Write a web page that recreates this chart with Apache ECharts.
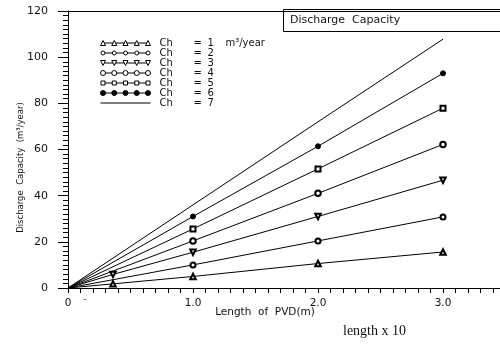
<!DOCTYPE html>
<html>
<head>
<meta charset="utf-8">
<script src="https://cdn.jsdelivr.net/npm/echarts@6/dist/echarts.min.js"></script>
<style>
  html, body { margin: 0; padding: 0; background: #fff; }
  #chart { width: 500px; height: 344px; }
</style>
</head>
<body>
<div id="chart"></div>
<script>
// PVD lengths (m) at which the discharge capacity was computed
const lengths = [0, 1.0, 2.0, 3.0];
// Discharge capacity (m3/year) for each Ch value
const ch1 = [0, 5.0, 10.6, 15.6];
const ch2 = [0, 10.0, 20.4, 30.8];
const ch3 = [0, 15.5, 31.0, 46.7];
const ch4 = [0, 20.4, 41.0, 62.2];
const ch5 = [0, 25.6, 51.6, 77.9];
const ch6 = [0, 31.0, 61.4, 93.0];
const ch7 = [0, 36.0, 72.0, 107.8];
// extra short-length readings for Ch = 1 and Ch = 3
const shortLength = 0.36;
const ch1Short = 1.8;
const ch3Short = 5.9;

const chNames = ['1', '2', '3', '4', '5', '6', '7'];
const yTicks = [0, 20, 40, 60, 80, 100, 120];
const xLabelValues = [0, 1, 2, 3];

const FONT = 'DejaVu Sans';

function buildPoints(values, extra) {
  const pts = lengths.map((x, i) => (i === 0 ? { value: [x, values[i]], symbol: 'none' } : [x, values[i]]));
  if (extra !== undefined) pts.splice(1, 0, [shortLength, extra]);
  return pts;
}

// legend swatch paths: a row of five markers joined by short line segments (50 x 5 box)
const centers = [2.5, 13.75, 25, 36.25, 47.5];
function joinSegs(halfW) {
  let s = '';
  for (let i = 0; i < centers.length - 1; i++) {
    s += 'M' + (centers[i] + halfW) + ' 2.5 L' + (centers[i + 1] - halfW) + ' 2.5 ';
  }
  return s;
}
function triPath(down) {
  let s = '';
  centers.forEach(c => {
    s += down ? ('M' + (c - 2.5) + ' 0 L' + (c + 2.5) + ' 0 L' + c + ' 5 Z ')
              : ('M' + (c - 2.5) + ' 5 L' + c + ' 0 L' + (c + 2.5) + ' 5 Z ');
  });
  return 'path://' + s + joinSegs(1.3);
}
function circlePath(r) {
  let s = '';
  centers.forEach(c => {
    s += 'M' + (c - r) + ' 2.5 A' + r + ' ' + r + ' 0 1 0 ' + (c + r) + ' 2.5 A' + r + ' ' + r + ' 0 1 0 ' + (c - r) + ' 2.5 Z ';
  });
  // keep the box 50 x 5
  return 'path://M0 0 M50 5 ' + s + joinSegs(r);
}
function rectPath() {
  let s = '';
  centers.forEach(c => {
    s += 'M' + (c - 2) + ' 0.5 L' + (c + 2) + ' 0.5 L' + (c + 2) + ' 4.5 L' + (c - 2) + ' 4.5 Z ';
  });
  return 'path://M0 0 M50 5 ' + s + joinSegs(2);
}

const hollow = { color: '#fff', borderColor: '#000', borderWidth: 1 };
const legendData = [
  { name: '1', icon: triPath(false), itemStyle: hollow },
  { name: '2', icon: circlePath(2), itemStyle: hollow },
  { name: '3', icon: triPath(true), itemStyle: hollow },
  { name: '4', icon: circlePath(2.5), itemStyle: hollow },
  { name: '5', icon: rectPath(), itemStyle: hollow },
  { name: '6', icon: circlePath(2.5), itemStyle: { color: '#000', borderColor: '#000', borderWidth: 1 } },
  { name: '7', itemStyle: { color: 'rgba(0,0,0,0)', borderColor: 'rgba(0,0,0,0)', borderWidth: 0 },
    lineStyle: { color: '#000', width: 1 } }
];

const seriesDefs = [
  { data: buildPoints(ch1, ch1Short), symbol: 'emptyTriangle', size: 5.5 },
  { data: buildPoints(ch2), symbol: 'emptyCircle', size: 5 },
  { data: buildPoints(ch3, ch3Short), symbol: 'emptyTriangle', size: 5.5, rotate: 180 },
  { data: buildPoints(ch4), symbol: 'emptyCircle', size: 5.5 },
  { data: buildPoints(ch5), symbol: 'emptyRect', size: 5 },
  { data: buildPoints(ch6), symbol: 'circle', size: 5 },
  { data: buildPoints(ch7), symbol: 'none', size: 0 }
];

const chart = echarts.init(document.getElementById('chart'), null, { renderer: 'canvas' });

const richText = {
  a: { fontFamily: FONT, fontSize: 10, color: '#111', width: 34, padding: [0, 0, 0, 4], lineHeight: 9.7 },
  b: { fontFamily: FONT, fontSize: 10, color: '#111', width: 14, lineHeight: 9.7 },
  c: { fontFamily: FONT, fontSize: 10, color: '#111', width: 18, lineHeight: 9.7 },
  d: { fontFamily: FONT, fontSize: 10, color: '#111', lineHeight: 9.7 }
};

const option = {
  animation: false,
  backgroundColor: '#fff',
  title: {
    text: 'Discharge  Capacity',
    left: 283,
    top: 9,
    padding: [6, 160, 6, 7],
    borderColor: '#000',
    borderWidth: 1,
    textStyle: { fontFamily: FONT, fontSize: 11, fontWeight: 'normal', color: '#111' }
  },
  grid: { left: 68, right: 0, top: 11, bottom: 56, containLabel: false },
  legend: {
    orient: 'vertical',
    left: 95,
    top: 33,
    itemWidth: 50,
    itemHeight: 5,
    itemGap: 0,
    selectedMode: false,
    data: legendData,
    textStyle: { fontFamily: FONT, fontSize: 10, color: '#111', lineHeight: 9.7, rich: richText },
    formatter: function (name) {
      let s = '{a|Ch}{b|=}{c|' + name + '}';
      if (name === '1') s += '{d|m³/year}';
      return s;
    }
  },
  xAxis: [
    {
      type: 'value',
      min: 0,
      max: 3.456,
      interval: 0.1,
      name: 'Length  of  PVD(m)',
      nameLocation: 'middle',
      nameMoveOverlap: false,
      nameGap: 19,
      nameTextStyle: { fontFamily: FONT, fontSize: 10.5, color: '#111', padding: [0, 38, 0, 0] },
      axisLine: { show: true, onZero: false, lineStyle: { color: '#000', width: 1 } },
      axisTick: { show: true, length: 5, inside: false, lineStyle: { color: '#000' } },
      axisLabel: {
        margin: 10,
        fontFamily: FONT,
        fontSize: 10.5,
        color: '#111',
        showMaxLabel: false,
        formatter: function (v) {
          const hit = xLabelValues.find(t => Math.abs(t - v) < 1e-6);
          if (hit === undefined) return '';
          return hit === 0 ? '0' : hit.toFixed(1);
        }
      },
      splitLine: { show: false }
    },
    {
      type: 'value',
      position: 'top',
      min: 0,
      max: 3.456,
      axisLine: { show: true, onZero: false, lineStyle: { color: '#000', width: 1 } },
      axisTick: { show: false },
      axisLabel: { show: false },
      splitLine: { show: false }
    }
  ],
  yAxis: {
    type: 'value',
    min: yTicks[0],
    max: yTicks[yTicks.length - 1],
    interval: 20,
    name: 'Discharge  Capacity  (m³/year)',
    nameLocation: 'middle',
    nameMoveOverlap: false,
    nameGap: 43,
    nameTextStyle: { fontFamily: FONT, fontSize: 8.5, color: '#111', padding: [0, 36, 0, 0] },
    axisLine: { show: true, onZero: false, lineStyle: { color: '#000', width: 1 } },
    axisTick: { show: true, length: 10, lineStyle: { color: '#000' } },
    minorTick: { show: true, splitNumber: 10, length: 5, lineStyle: { color: '#000' } },
    axisLabel: { margin: 20, fontFamily: FONT, fontSize: 11, color: '#111' },
    splitLine: { show: false }
  },
  series: seriesDefs.map((d, i) => ({
    name: chNames[i],
    type: 'line',
    data: d.data,
    symbol: d.symbol,
    symbolSize: d.size,
    symbolRotate: d.rotate || 0,
    showSymbol: d.symbol !== 'none',
    lineStyle: { color: '#000', width: 1 },
    itemStyle: { color: '#000', borderColor: '#000', borderWidth: 1 },
    z: 2
  })),
  graphic: [
    {
      type: 'text',
      left: 343,
      top: 324,
      style: { text: 'length x 10', fontFamily: 'Liberation Serif', fontSize: 14, fill: '#111' }
    },
    {
      type: 'text',
      left: 83,
      top: 296,
      style: { text: '–', fontFamily: FONT, fontSize: 8, fill: '#444' }
    }
  ]
};

chart.setOption(option);
</script>
</body>
</html>
